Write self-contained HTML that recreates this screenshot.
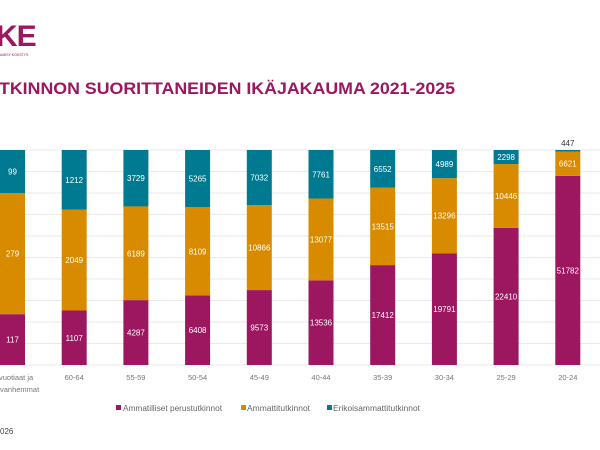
<!DOCTYPE html>
<html><head><meta charset="utf-8"><style>
html,body{margin:0;padding:0;background:#fff;width:600px;height:450px;overflow:hidden}
svg{display:block;font-family:"Liberation Sans",sans-serif}
</style></head><body>
<svg id="s" width="600" height="450" viewBox="0 0 600 450" xmlns="http://www.w3.org/2000/svg">
<text x="-4" y="46" font-size="30" font-weight="bold" fill="#9c1660" letter-spacing="-1">KE</text>
<text x="0" y="56" font-size="3.5" fill="#9c1660">AMISY KOKSTYS</text>
<text x="-1" y="94" font-size="16.5" font-weight="bold" fill="#9c1660" textLength="456" lengthAdjust="spacingAndGlyphs">TKINNON SUORITTANEIDEN IKÄJAKAUMA 2021-2025</text>
<g id="grid" stroke="#e3e3e3" stroke-width="0.8"></g>
<g id="bars"></g>
<g font-size="8" fill="#666">
<rect x="116" y="115" width="5" height="5" fill="#9c1660" transform="translate(0,290)"/><text x="123" y="411" textLength="99" lengthAdjust="spacingAndGlyphs">Ammatilliset perustutkinnot</text>
<rect x="241" y="405" width="5" height="5" fill="#d98b00"/><text x="247" y="411" textLength="63" lengthAdjust="spacingAndGlyphs">Ammattitutkinnot</text>
<rect x="327" y="405" width="5" height="5" fill="#007a91"/><text x="333" y="411" textLength="87" lengthAdjust="spacingAndGlyphs">Erikoisammattitutkinnot</text>
</g>
<text x="0" y="434" font-size="8" fill="#444">026</text>
</svg>
<script>
(function(){
var d=[["65",117,279,99],["60-64",1107,2049,1212],["55-59",4287,6189,3729],["50-54",6408,8109,5265],["45-49",9573,10866,7032],["40-44",13536,13077,7761],["35-39",17412,13515,6552],["30-34",19791,13296,4989],["25-29",22410,10446,2298],["20-24",51782,6621,447]];
var ns="http://www.w3.org/2000/svg",g=document.getElementById("grid"),b=document.getElementById("bars");
function el(t,a,p,txt){var e=document.createElementNS(ns,t);for(var k in a)e.setAttribute(k,a[k]);if(txt!=null)e.textContent=txt;p.appendChild(e);return e;}
var T=150,B=365,H=B-T;
for(var i=0;i<=10;i++){var y=T+H*i/10;el("line",{x1:0,x2:600,y1:y,y2:y},g);}
var cols=["#9c1660","#d98b00","#007a91"];
d.forEach(function(r,i){
 var x=0+61.7*i,w=25,t=r[1]+r[2]+r[3],y=B;
 for(var j=0;j<3;j++){var h=H*r[j+1]/t;y-=h;el("rect",{x:x,y:y,width:w,height:h,fill:cols[j]},b);
  var ly=y+h/2+3;var lab={x:x+w/2,y:ly,"font-size":8,fill:"#fff","text-anchor":"middle"};
  if(i==9&&j==2){lab.y=T-4;lab.fill="#333";}
  el("text",lab,b,r[j+1]);}
 if(i>0)el("text",{x:x+w/2,y:380,"font-size":7.5,fill:"#777","text-anchor":"middle"},b,r[0]);
});
el("text",{x:-1,y:380,"font-size":7.5,fill:"#777"},b,"vuotiaat ja");
el("text",{x:0,y:392,"font-size":7.5,fill:"#777"},b,"vanhemmat");
})();
</script>
</body></html>
